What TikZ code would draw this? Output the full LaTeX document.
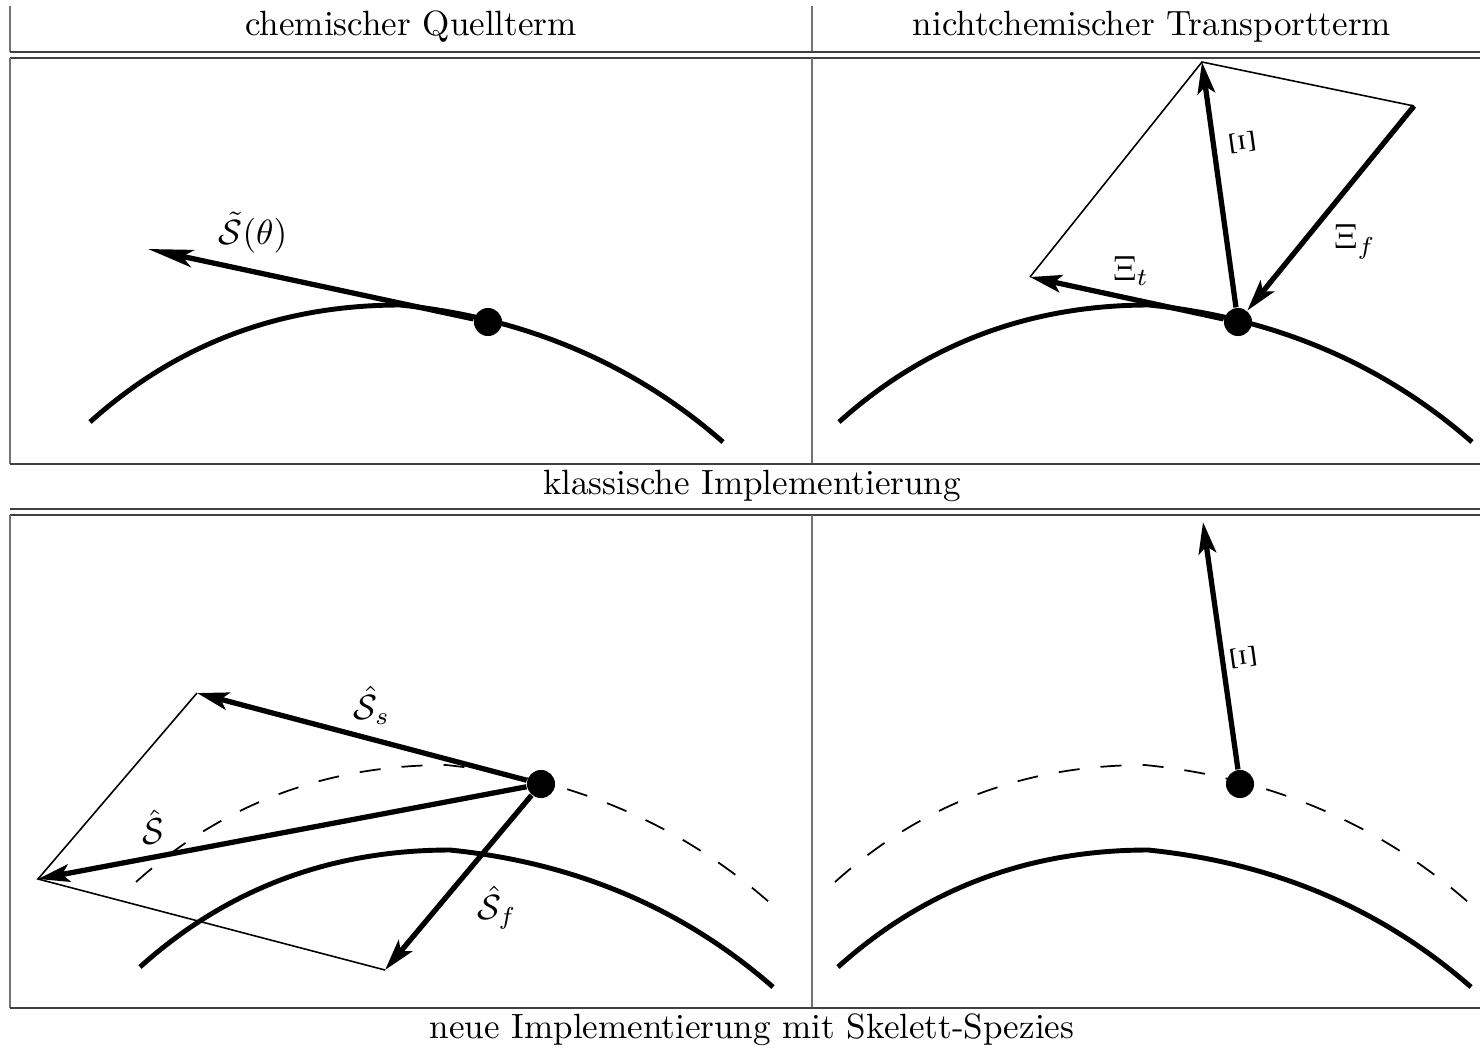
\documentclass[tikz,border=0pt]{standalone}
\usetikzlibrary{arrows.meta}
\begin{document}
\begin{tikzpicture}[x=0.285pt,y=-0.285pt,
  frame/.style={black!75,line width=0.55pt},
  sep/.style={black!55,line width=0.4pt},
  curve/.style={line width=1.4pt},
  dashcurve/.style={line width=0.5pt,dash pattern=on 6pt off 6pt},
  vec/.style={line width=1.5pt,-{Stealth[length=9pt,width=5pt,inset=2pt]}},
  longvec/.style={line width=1.5pt,-{Stealth[length=13pt,width=5pt,inset=3pt]}},
  thinline/.style={line width=0.45pt},
  dotpt/.style={circle,fill,inner sep=0pt,minimum size=8pt},
  lab/.style={inner sep=1pt},
  arcshape/.pic={\draw[pic actions] (0,0) .. controls (86.7,-78) and (190,-117) .. (310,-117)
      .. controls (435.3,-104.3) and (543,-58.7) .. (633,20);}]
\useasboundingbox (0,0) rectangle (1480,1048);
% frame
\draw[sep] (10,6) -- (10,52);
\draw[sep] (812,6) -- (812,52);
\draw[frame] (10,52) -- (1480,52);
\draw[frame,line width=0.75pt] (10,58) -- (1480,58);
\draw[sep] (10,58) -- (10,464);
\draw[sep] (812,58) -- (812,464);
\draw[frame,line width=0.75pt] (10,464) -- (1480,464);
\draw[frame] (10,509) -- (1480,509);
\draw[frame,line width=0.75pt] (10,515) -- (1480,515);
\draw[sep] (10,515) -- (10,1008);
\draw[sep] (812,515) -- (812,1008);
\draw[frame,line width=0.75pt] (10,1008) -- (1480,1008);
% texts
\node (h1) at (411,27) {chemischer Quellterm};
\node (h2) at (1152,27) {nichtchemischer Transportterm};
\node (c1) at (752,486) {klassische Implementierung};
\node (c2) at (752,1030) {neue Implementierung mit Skelett-Spezies};
% curves
\pic[curve] at (90,422) {arcshape};
\pic[curve] at (839,422) {arcshape};
\pic[curve] at (140,967) {arcshape};
\pic[curve] at (838,967) {arcshape};
\pic[dashcurve] at (136,882) {arcshape};
\pic[dashcurve] at (835,882) {arcshape};
% points
\node[dotpt] (d1) at (488,322) {};
\node[dotpt] (d2) at (1238,322) {};
\node[dotpt] (d3) at (541,784) {};
\node[dotpt] (d4) at (1240,784) {};
\coordinate (s1) at (148,249);
\coordinate (xt) at (1030,277);
\coordinate (xi) at (1202,62);
\coordinate (xf) at (1414,106);
\coordinate (ss) at (197,693);
\coordinate (sh) at (38,879);
\coordinate (sf) at (385,970);
\coordinate (xb) at (1203,522);
% vectors
\draw[longvec] (d1) -- (s1);
\draw[thinline] (xt) -- (xi) -- (xf);
\draw[vec] (d2) -- (xi);
\draw[vec] (d2) -- (xt);
\draw[vec] (xf) -- (d2);
\draw[thinline] (ss) -- (sh) -- (sf);
\draw[vec] (d3) -- (ss);
\draw[vec] (d3) -- (sh);
\draw[vec] (d3) -- (sf);
\draw[vec] (d4) -- (xb);
% labels
\node[lab] (l1) at (253,233) {$\tilde{\mathcal{S}}(\theta)$};
\node[lab,rotate=98] (l2) at (1242,143) {$\Xi$};
\node[lab] (l3) at (1131,271) {$\Xi_t$};
\node[lab] (l4) at (1355,242) {$\Xi_f$};
\node[lab] (l5) at (372,705) {$\hat{\mathcal{S}}_s$};
\node[lab,rotate=10] (l6) at (152,827) {$\hat{\mathcal{S}}$};
\node[lab] (l7) at (497,908) {$\hat{\mathcal{S}}_f$};
\node[lab,rotate=98] (l8) at (1243,658) {$\Xi$};
\end{tikzpicture}
\end{document}
